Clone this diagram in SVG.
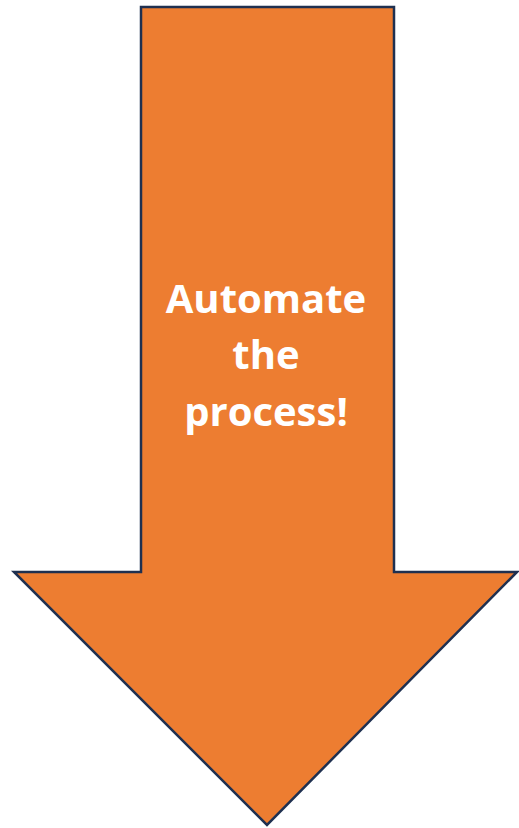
<svg xmlns="http://www.w3.org/2000/svg" width="519" height="828" viewBox="0 0 519 828">
<style>
.arrow{fill:#ed7d31;stroke:#1f3050;stroke-width:2.5;stroke-linejoin:miter}
.lbl{font-family:"Open Sans","Noto Sans",sans-serif;font-weight:bold;font-size:40px;fill:#ffffff;text-anchor:middle}
</style>
<g id="arrow">
<polygon class="arrow" points="141,7 394,7 394,572 517,572 267,825 14,572 141,572"/>
<text class="lbl" x="266" y="313">Automate</text>
<text class="lbl" x="266" y="369">the</text>
<text class="lbl" x="266" y="426">process!</text>
</g>
</svg>
